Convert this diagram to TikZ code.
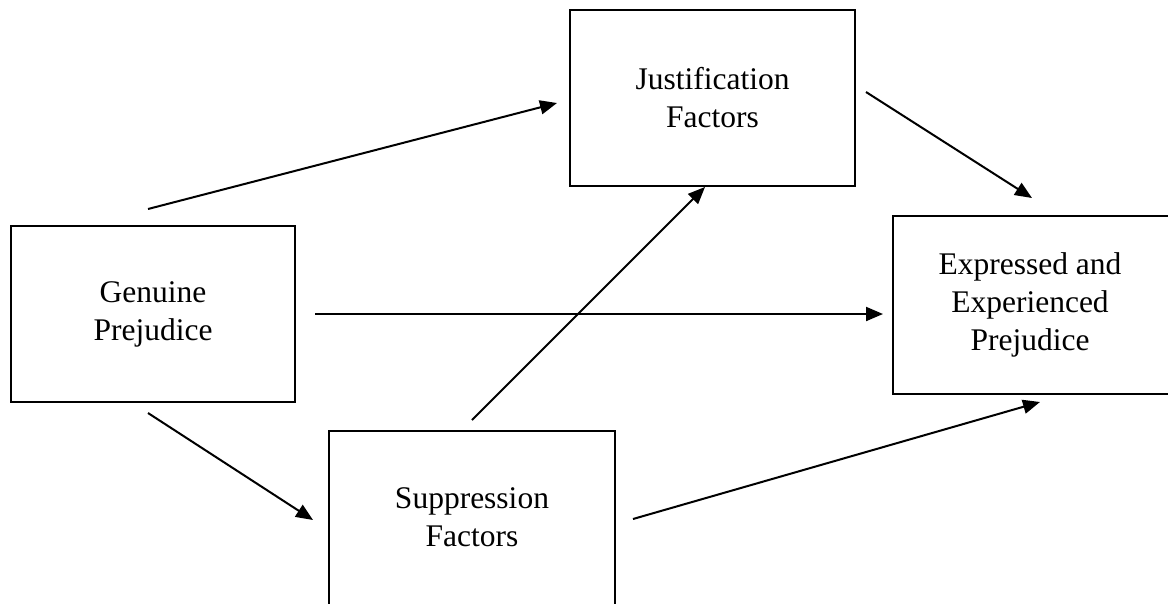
\documentclass[tikz,border=0pt]{standalone}
\usepackage{fontspec}
\setmainfont{Liberation Serif}
\usetikzlibrary{arrows.meta,calc}
\begin{document}
\begin{tikzpicture}[x=1pt,y=-1pt,
  box/.style={draw,line width=2pt,align=center,inner sep=0pt,
    font=\fontsize{31.5}{38}\selectfont},
  openbox/.style={box,draw=none},
  edge/.style={line width=2pt},
  arr/.style={line width=2pt,-{Triangle[length=17pt,width=14pt]}}]
\useasboundingbox (0,0) rectangle (1168,603);
\node[box,minimum width=284pt,minimum height=176pt] (g) at (153,314) {Genuine\\Prejudice};
\node[box,minimum width=285pt,minimum height=176pt] (j) at (712.5,98) {Justification\\Factors};
\node[openbox,minimum width=272pt,minimum height=176pt] (e) at (1030,305) {Expressed and\\Experienced\\Prejudice};
\node[openbox,minimum width=284pt,minimum height=170pt] (s) at (472,517) {Suppression\\Factors};
\draw[edge] ($(e.north east)+(20,0)$) -- (e.north west) -- (e.south west) -- ($(e.south east)+(20,0)$);
\draw[edge] ($(s.south west)+(0,20)$) -- (s.north west) -- (s.north east) -- ($(s.south east)+(0,20)$);
\coordinate (gj1) at (148,209);
\coordinate (gj2) at (557,103);
\coordinate (je1) at (866,92);
\coordinate (je2) at (1032,198);
\coordinate (ge1) at (315,314);
\coordinate (ge2) at (883,314);
\coordinate (sj1) at (472,420);
\coordinate (sj2) at (705,187);
\coordinate (gs1) at (148,413);
\coordinate (gs2) at (313,520);
\coordinate (se1) at (633,519);
\coordinate (se2) at (1040,402);
\draw[arr] (gj1) -- (gj2);
\draw[arr] (je1) -- (je2);
\draw[arr] (ge1) -- (ge2);
\draw[arr] (sj1) -- (sj2);
\draw[arr] (gs1) -- (gs2);
\draw[arr] (se1) -- (se2);
\end{tikzpicture}
\end{document}
